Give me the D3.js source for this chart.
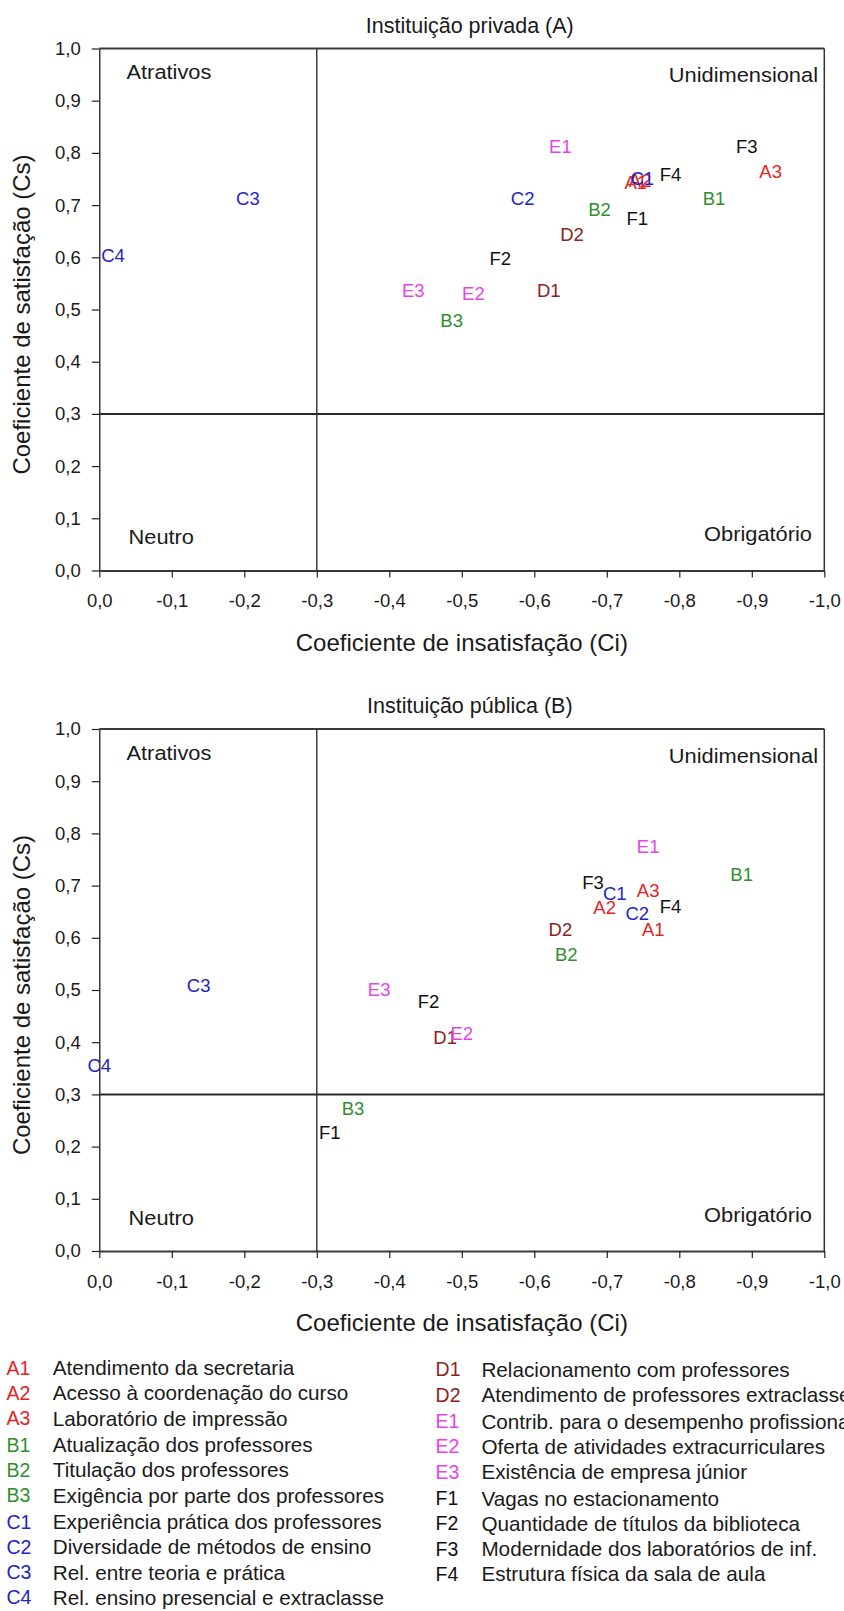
<!DOCTYPE html>
<html>
<head>
<meta charset="utf-8">
<script src="https://cdn.jsdelivr.net/npm/d3@7"></script>
<style>
  body { margin: 0; background: #fff; }
  text { font-family: "Liberation Sans", Arial, Helvetica, sans-serif; fill: #1a1a1a; }
</style>
</head>
<body>
<div id="container"></div>
<script>
// ******* Data *******
var codes = ["A1", "A2", "A3", "B1", "B2", "B3", "C1", "C2", "C3", "C4",
             "D1", "D2", "E1", "E2", "E3", "F1", "F2", "F3", "F4"];

// Instituição privada (A)
var privCi = [-0.740, -0.746, -0.926, -0.848, -0.690, -0.486, -0.749, -0.584, -0.205, -0.019,
              -0.620, -0.652, -0.636, -0.516, -0.433, -0.742, -0.553, -0.893, -0.788];
var privCs = [0.744, 0.748, 0.764, 0.713, 0.691, 0.479, 0.751, 0.712, 0.712, 0.604,
              0.537, 0.644, 0.812, 0.531, 0.537, 0.675, 0.598, 0.812, 0.759];

// Instituição pública (B)
var pubCi = [-0.764, -0.697, -0.757, -0.886, -0.644, -0.350, -0.711, -0.742, -0.137, 0.000,
             -0.477, -0.636, -0.757, -0.500, -0.386, -0.318, -0.454, -0.681, -0.788];
var pubCs = [0.615, 0.658, 0.690, 0.722, 0.568, 0.273, 0.684, 0.646, 0.508, 0.356,
             0.409, 0.615, 0.775, 0.416, 0.500, 0.227, 0.478, 0.706, 0.660];

var descriptions = [
  "Atendimento da secretaria",
  "Acesso à coordenação do curso",
  "Laboratório de impressão",
  "Atualização dos professores",
  "Titulação dos professores",
  "Exigência por parte dos professores",
  "Experiência prática dos professores",
  "Diversidade de métodos de ensino",
  "Rel. entre teoria e prática",
  "Rel. ensino presencial e extraclasse",
  "Relacionamento com professores",
  "Atendimento de professores extraclasse",
  "Contrib. para o desempenho profissional",
  "Oferta de atividades extracurriculares",
  "Existência de empresa júnior",
  "Vagas no estacionamento",
  "Quantidade de títulos da biblioteca",
  "Modernidade dos laboratórios de inf.",
  "Estrutura física da sala de aula"
];

var xTicks = [0, -0.1, -0.2, -0.3, -0.4, -0.5, -0.6, -0.7, -0.8, -0.9, -1.0];
var yTicks = [0, 0.1, 0.2, 0.3, 0.4, 0.5, 0.6, 0.7, 0.8, 0.9, 1.0];
var ciCut = -0.3, csCut = 0.3; // quadrant dividers
var panelTitles = ["Instituição privada (A)", "Instituição pública (B)"];
var quadrantNames = ["Atrativos", "Unidimensional", "Neutro", "Obrigatório"];
var xTitle = "Coeficiente de insatisfação (Ci)";
var yTitle = "Coeficiente de satisfação (Cs)";

// ******* Styles *******
var groupColor = { A: "#e3241f", B: "#2f8f2f", C: "#2424c4", D: "#8b2323", E: "#e645e6", F: "#111111" };
var width = 844, height = 1611;
var plotLeft = 99.3, plotRight = 824.3, plotH = 522;
var panelTops = [48.5, 729];
var quadStretch = 1.12;

var svg = d3.select("#container").append("svg")
  .attr("width", width)
  .attr("height", height)
  .style("display", "block");

svg.append("rect").attr("width", width).attr("height", height).attr("fill", "#fff");

var fmt = function(v) {
  return d3.format(".1f")(v).replace("\u2212", "-").replace(".", ",");
};

var x = d3.scaleLinear().domain([0, -1]).range([plotLeft, plotRight]);

function drawPanel(idx, ci, cs) {
  var top = panelTops[idx];
  var y = d3.scaleLinear().domain([0, 1]).range([top + plotH, top]);
  var g = svg.append("g").attr("class", "panel");

  // quadrant lines
  g.append("line")
    .attr("x1", x(ciCut)).attr("x2", x(ciCut))
    .attr("y1", y(1)).attr("y2", y(0))
    .attr("stroke", "#222").attr("stroke-width", 1.3);
  g.append("line")
    .attr("x1", x(0)).attr("x2", x(-1))
    .attr("y1", y(csCut)).attr("y2", y(csCut))
    .attr("stroke", "#2a2a2a").attr("stroke-width", 2);

  // frame: top + right
  g.append("line")
    .attr("x1", x(0)).attr("x2", x(-1))
    .attr("y1", y(1)).attr("y2", y(1))
    .attr("stroke", "#3a3a3a").attr("stroke-width", 2);
  g.append("line")
    .attr("x1", x(-1)).attr("x2", x(-1))
    .attr("y1", y(1)).attr("y2", y(0))
    .attr("stroke", "#333").attr("stroke-width", 1.5);

  // axes
  var xAxis = d3.axisBottom(x).tickValues(xTicks).tickFormat(fmt)
    .tickSize(7).tickPadding(16.5).tickSizeOuter(0);
  var yAxis = d3.axisLeft(y).tickValues(yTicks).tickFormat(fmt)
    .tickSize(7.5).tickPadding(11).tickSizeOuter(0);

  var gy = g.append("g").attr("class", "y-axis")
    .attr("transform", "translate(" + plotLeft + ",0)")
    .call(yAxis);
  gy.select(".domain").attr("stroke", "#1a1a1a").attr("stroke-width", 1.3);

  var gx = g.append("g").attr("class", "x-axis")
    .attr("transform", "translate(0," + (top + plotH) + ")")
    .call(xAxis);
  gx.select(".domain").attr("stroke", "#3a3a3a").attr("stroke-width", 2.2);

  g.selectAll(".tick line").attr("stroke", "#222").attr("stroke-width", 1.2);
  g.selectAll(".tick text")
    .style("font-family", "'Liberation Sans', Arial, sans-serif")
    .style("font-size", "18.5px")
    .attr("fill", "#1a1a1a");

  // quadrant names
  var quadPos = [
    { x: 126.5, y: y(1) + 24, anchor: "start" },
    { x: 818, y: y(1) + 27, anchor: "end" },
    { x: 128.5, y: y(0) - 33, anchor: "start" },
    { x: 812, y: y(0) - 36, anchor: "end" }
  ];
  quadrantNames.forEach(function(name, i) {
    g.append("text")
      .attr("transform", "translate(" + quadPos[i].x + "," + quadPos[i].y + ") scale(" + quadStretch + ",1)")
      .attr("dy", "0.35em")
      .attr("text-anchor", quadPos[i].anchor)
      .style("font-size", "19.5px")
      .text(name);
  });

  // point labels (the markers are the codes themselves)
  g.selectAll(".pt")
    .data(codes)
    .enter().append("text")
    .attr("class", "pt")
    .attr("x", function(d, i) { return x(ci[i]); })
    .attr("y", function(d, i) { return y(cs[i]); })
    .attr("dy", "0.35em")
    .attr("text-anchor", "middle")
    .style("font-size", "18.5px")
    .style("fill", function(d) { return groupColor[d[0]]; })
    .text(function(d) { return d; });

  // titles
  g.append("text")
    .attr("x", (plotLeft + plotRight) / 2 + 8)
    .attr("y", top - 23.5)
    .attr("dy", "0.35em")
    .attr("text-anchor", "middle")
    .style("font-size", "21.5px")
    .text(panelTitles[idx]);

  g.append("text")
    .attr("x", (plotLeft + plotRight) / 2)
    .attr("y", top + plotH + 72)
    .attr("dy", "0.35em")
    .attr("text-anchor", "middle")
    .style("font-size", "24px")
    .text(xTitle);

  g.append("text")
    .attr("transform", "translate(" + 22 + "," + (top + plotH / 2 + 5) + ")rotate(-90)")
    .attr("dy", "0.35em")
    .attr("text-anchor", "middle")
    .style("font-size", "24px")
    .text(yTitle);
}

drawPanel(0, privCi, privCs);
drawPanel(1, pubCi, pubCs);

// ******* Legend (two columns: A-C left, D-F right) *******
var legend = svg.append("g").attr("class", "legend");
var leftCol = { code: 6.5, text: 52.8, y0: 1368 };
var rightCol = { code: 435.6, text: 481.4, y0: 1369.5 };
var rowStep = 25.2, groupGap = 1.4;

codes.forEach(function(c, i) {
  var right = "DEF".indexOf(c[0]) >= 0;
  var col = right ? rightCol : leftCol;
  var row = right ? i - 10 : i;
  var groupsBefore = right ? "DEF".indexOf(c[0]) : "ABC".indexOf(c[0]);
  var yy = col.y0 + row * rowStep + groupsBefore * groupGap;
  legend.append("text")
    .attr("x", col.code)
    .attr("y", yy)
    .attr("dy", "0.35em")
    .style("font-size", "19.5px")
    .style("fill", groupColor[c[0]])
    .text(c);
  legend.append("text")
    .attr("x", col.text)
    .attr("y", yy)
    .attr("dy", "0.35em")
    .style("font-size", "20.7px")
    .text(descriptions[i]);
});
</script>
</body>
</html>
